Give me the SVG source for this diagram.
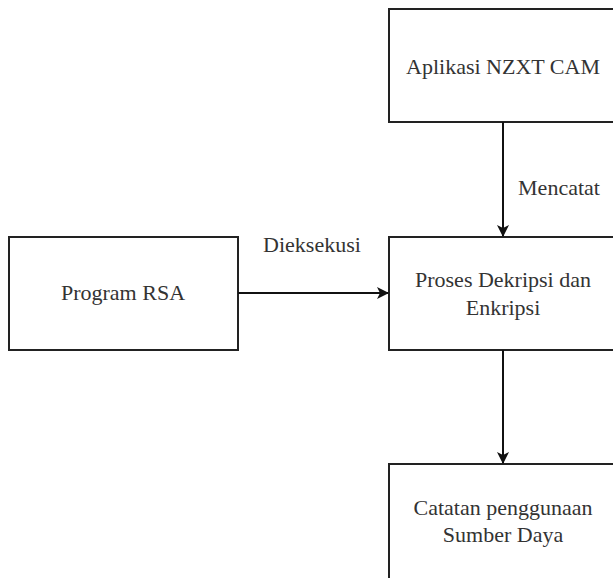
<svg xmlns="http://www.w3.org/2000/svg" width="613" height="578" viewBox="0 0 613 578">
<defs>
<marker id="ah" markerWidth="12" markerHeight="12" refX="11" refY="6" orient="auto" markerUnits="userSpaceOnUse">
<path d="M0,0 L12,6 L0,12 L3,6 Z" fill="#111"/>
</marker>
</defs>
<style>
.box{fill:#fff;stroke:#222;stroke-width:2}
.t{font-size:22px;fill:#333;text-anchor:middle}
.c{stroke:#111;stroke-width:2;fill:none}
</style>
<rect width="613" height="578" fill="#fff"/>
<g font-family="'Liberation Serif', 'DejaVu Serif', serif">
<g id="n1"><rect class="box" x="389" y="9" width="228" height="113"/><text class="t" x="503" y="74">Aplikasi NZXT CAM</text></g>
<g id="n2"><rect class="box" x="9" y="237" width="229" height="113"/><text class="t" x="123" y="300">Program RSA</text></g>
<g id="n3"><rect class="box" x="389" y="237" width="228" height="113"/><text class="t" x="503" y="287">Proses Dekripsi dan</text><text class="t" x="503" y="315">Enkripsi</text></g>
<g id="n4"><rect class="box" x="389" y="464" width="228" height="120"/><text class="t" x="503" y="515">Catatan penggunaan</text><text class="t" x="503" y="542">Sumber Daya</text></g>
<g id="connectors">
<line class="c" x1="503" y1="122" x2="503" y2="236" marker-end="url(#ah)"/>
<text class="t" x="559" y="195">Mencatat</text>
<line class="c" x1="238" y1="293" x2="388" y2="293" marker-end="url(#ah)"/>
<text class="t" x="312" y="252">Dieksekusi</text>
<line class="c" x1="503" y1="350" x2="503" y2="463" marker-end="url(#ah)"/>
</g>
</g>
</svg>
